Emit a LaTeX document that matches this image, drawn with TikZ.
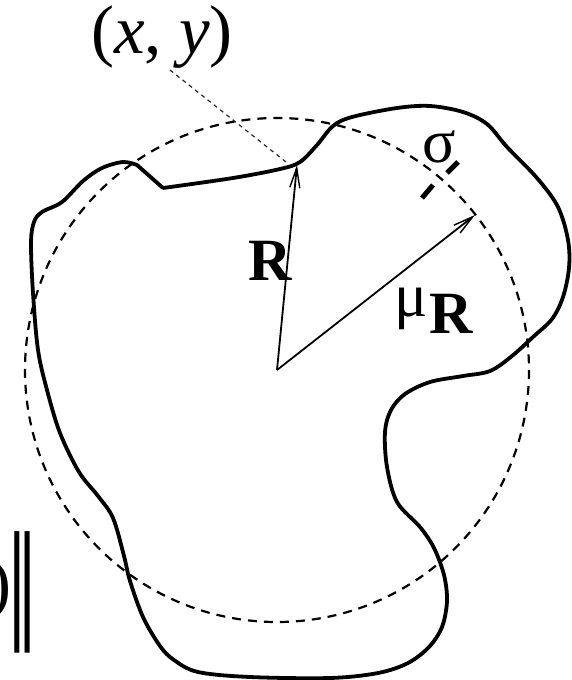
\documentclass[tikz,border=0pt]{standalone}
\usepackage{fontspec}
\setmainfont{Liberation Serif}
\newfontfamily\dvs{DejaVu Serif}
\usetikzlibrary{arrows.meta}
\tikzset{
  outline/.style={line width=3.8pt, line join=round, line cap=round},
  circ/.style={line width=2.2pt, dash pattern=on 9pt off 7pt},
  guide/.style={line width=1.2pt, black!85, dash pattern=on 4pt off 4pt},
  vec/.style={line width=1.8pt, -{Straight Barb[length=20pt,width=10pt,line width=1.4pt]}},
  tick/.style={line width=5pt},
  big/.style={inner sep=0pt, text height=0.7em, text depth=0.2em, font=\fontsize{69}{75}\selectfont},
  lab/.style={inner sep=0pt, font=\fontsize{60}{66}\selectfont\bfseries},
  greek/.style={inner sep=0pt, font=\fontsize{62}{66}\selectfont},
}
\begin{document}
\begin{tikzpicture}[x=1pt, y=-1pt]
\path[use as bounding box] (0,0) rectangle (572,680);
\clip (0,0) rectangle (572,680);
\fill[white] (0,0) rectangle (572,680);

% dashed circle
\coordinate (O) at (277,370);
\draw[circ] (O) circle[radius=252];

% outline of the region
\draw[outline] plot[smooth, tension=0.55] coordinates {
 (163,188) (233,178) (280,169) (300,162) (317,145) (333,126) (352,117)
 (397,108) (430,106) (463,112) (487,124) (507,147) (537,178) (558,207)
 (568,240) (569,268) (563,297) (552,319) (533,337) (512,356) (490,371)
 (463,376) (430,382) (405,394) (391,410) (385,432) (387,467) (397,502)
 (420,527) (434,548) (444,575) (447,601) (442,627) (429,647) (408,663)
 (378,673) (330,678) (250,677) (198,672) (174,660) (160,646) (143,617)
 (130,581) (124,556) (113,518) (98,496) (79,472) (60,433) (47,390)
 (38,350) (33,293) (31,243) (34,222) (42,212) (62,202) (83,181)
 (102,168) (123,162) (137,165)} -- (163,188);

% vectors
\coordinate (Rtip) at (297,165);
\coordinate (Mtip) at (475,215);
\draw[vec] (O) -- (Rtip);
\draw[vec] (O) -- (Mtip);

% sigma ticks (radial, straddling the circle)
\coordinate (t1a) at (422,198);
\coordinate (t1b) at (433,185);
\coordinate (t2a) at (447,173);
\coordinate (t2b) at (458,162);
\draw[tick] (t1a) -- (t1b);
\draw[tick] (t2a) -- (t2b);

% labels
\node[big, anchor=base] (xy) at (162,53) {(\textit{x}, \textit{y})};
\coordinate (gstart) at (170,70);
\coordinate (gend) at (286,162);
\draw[guide] (gstart) -- (gend);

\node[lab, anchor=base] (Rlab) at (270,280) {R};
\node[greek, anchor=base west] (mu) at (394,316) {μ};
\node[lab, anchor=base] (Rsub) at (451,333) {R};
\node[greek, anchor=base] (sig) at (439,162) {σ};

\node[big, anchor=base east] (paren) at (12,606) {)};
\node[inner ysep=0pt, inner xsep=-5pt, font=\dvs\fontsize{64}{70}\selectfont, yscale=1.9] (norm) at (22,592) {‖};
\end{tikzpicture}
\end{document}
